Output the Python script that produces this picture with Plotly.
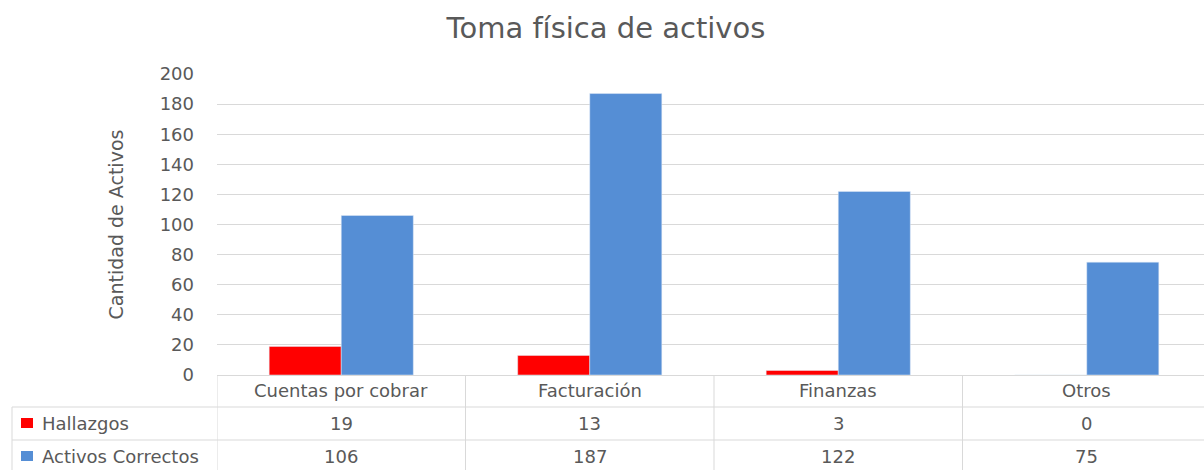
import plotly.graph_objects as go

categories = ["Cuentas por cobrar", "Facturación", "Finanzas", "Otros"]
hallazgos = [19, 13, 3, 0]
correctos = [106, 187, 122, 75]
series_names = ["Hallazgos", "Activos Correctos"]
y_ticks = [0, 20, 40, 60, 80, 100, 120, 140, 160, 180, 200]

RED = "#FF0000"
BLUE = "#558ED5"
GRID = "#D9D9D9"
TXT = "#595959"
FONT = "DejaVu Sans"

W, H = 1204, 470
L, R, T, B = 217, 0, 74, 95
ph = H - T - B
pw = W - L - R

def py(pix):
    return (H - B - pix) / ph

def px(pix):
    return (pix - L) / pw

fig = go.Figure()
fig.add_trace(go.Bar(x=list(range(len(categories))), y=hallazgos, name=series_names[0],
                     marker_color=RED))
fig.add_trace(go.Bar(x=list(range(len(categories))), y=correctos, name=series_names[1],
                     marker_color=BLUE))

shapes = []
annotations = []
row_y = [py(407), py(440), py(470)]
for yy in row_y[:2]:
    shapes.append(dict(type="line", xref="paper", yref="paper",
                       x0=px(12), x1=1, y0=yy, y1=yy,
                       line=dict(color=GRID, width=1)))
shapes.append(dict(type="line", xref="paper", yref="paper",
                   x0=px(12), x1=px(12), y0=row_y[0], y1=row_y[2],
                   line=dict(color=GRID, width=1)))
for i in range(len(categories)):
    shapes.append(dict(type="line", xref="x", yref="paper",
                       x0=i - 0.5, x1=i - 0.5, y0=0, y1=row_y[2],
                       line=dict(color=GRID, width=1)))

tf = dict(size=18, color=TXT, family=FONT)
for i, c in enumerate(categories):
    annotations.append(dict(x=i, y=py(391), xref="x", yref="paper", text=c,
                            showarrow=False, font=tf, yanchor="middle"))
    annotations.append(dict(x=i, y=py(423), xref="x", yref="paper", text=str(hallazgos[i]),
                            showarrow=False, font=tf, yanchor="middle"))
    annotations.append(dict(x=i, y=py(456), xref="x", yref="paper", text=str(correctos[i]),
                            showarrow=False, font=tf, yanchor="middle"))

for name, col, yc in [(series_names[0], RED, 423), (series_names[1], BLUE, 456)]:
    shapes.append(dict(type="rect", xref="paper", yref="paper",
                       x0=px(21), x1=px(33), y0=py(yc + 5), y1=py(yc - 5),
                       fillcolor=col, line=dict(width=0)))
    annotations.append(dict(x=px(40), y=py(yc), xref="paper", yref="paper",
                            text=name, showarrow=False, xanchor="left", yanchor="middle",
                            font=tf))

fig.update_layout(
    width=W, height=H,
    margin=dict(l=L, r=R, t=T, b=B, autoexpand=False),
    paper_bgcolor="white", plot_bgcolor="white",
    title=dict(text="Toma física de activos", x=606 / W, xref="container",
               y=1 - 28 / H, yref="container", xanchor="center", yanchor="middle",
               font=dict(size=29, color=TXT, family=FONT)),
    showlegend=False,
    barmode="group", bargap=0.42, bargroupgap=0,
    xaxis=dict(range=[-0.5, -0.5 + pw / 248.5], showticklabels=False, automargin=False,
               showgrid=False, zeroline=False, showline=False, ticks=""),
    yaxis=dict(range=[0, 200], tickvals=y_ticks, showgrid=True, gridcolor=GRID,
               automargin=False,
               zeroline=True, zerolinecolor=GRID, zerolinewidth=1,
               tickfont=dict(size=18, color=TXT, family=FONT), ticklabelstandoff=22,
               title=dict(text="Cantidad de Activos", standoff=30,
                          font=dict(size=19, color=TXT, family=FONT))),
    shapes=shapes, annotations=annotations,
    font=dict(family=FONT, color=TXT),
)

fig.write_html("out.html", config={"displayModeBar": False},
               post_script="document.body.style.margin='0';document.body.style.overflow='hidden';")
